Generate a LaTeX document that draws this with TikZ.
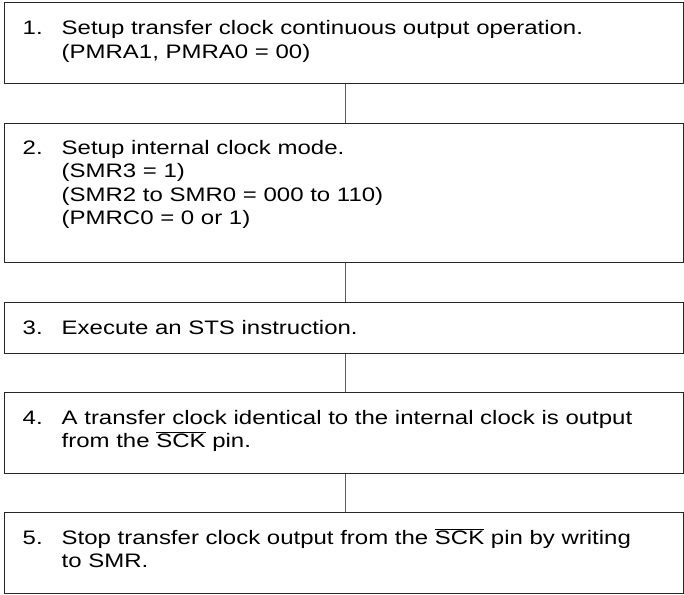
\documentclass[tikz,border=0pt]{standalone}
\usepackage{fontspec}
\setmainfont{Liberation Sans}[FakeStretch=1.23]
\usepackage{array}
\newcommand{\sck}{$\overline{\mbox{SCK}}$}
\newcommand{\stepitem}[2]{\begin{tabular}[t]{@{}p{39pt}@{}l@{}}#1 & #2\end{tabular}}
\begin{document}
\begin{tikzpicture}[x=1pt,y=-1pt,
  stepbox/.style={draw=black!85, line width=1pt, rectangle, minimum width=679pt, inner sep=0pt},
  steptext/.style={anchor=base west, inner sep=0pt, font=\fontsize{19.5}{23.5}\selectfont},
  link/.style={draw=black!65, line width=0.9pt}]
\useasboundingbox (0,0) rectangle (684,594);
\node[stepbox, minimum height=80pt] (b1) at (343.5,43) {};
\node[stepbox, minimum height=139pt] (b2) at (343.5,192.5) {};
\node[stepbox, minimum height=51pt] (b3) at (343.5,327.5) {};
\node[stepbox, minimum height=81pt] (b4) at (343.5,432.5) {};
\node[stepbox, minimum height=81pt] (b5) at (343.5,552.5) {};
\node[steptext] (t1) at ([shift={(19,32.5)}]b1.north west)
  {\stepitem{1.}{Setup transfer clock continuous output operation.\\ & (PMRA1, PMRA0 = 00)}};
\node[steptext] (t2) at ([shift={(19,31.5)}]b2.north west)
  {\stepitem{2.}{Setup internal clock mode.\\ & (SMR3 = 1)\\ & (SMR2 to SMR0 = 000 to 110)\\ & (PMRC0 = 0 or 1)}};
\node[steptext] (t3) at ([shift={(19,32.5)}]b3.north west)
  {\stepitem{3.}{Execute an STS instruction.}};
\node[steptext] (t4) at ([shift={(19,32.5)}]b4.north west)
  {\stepitem{4.}{A transfer clock identical to the internal clock is output\\ & from the \sck{} pin.}};
\node[steptext] (t5) at ([shift={(19,32.5)}]b5.north west)
  {\stepitem{5.}{Stop transfer clock output from the \sck{} pin by writing\\ & to SMR.}};
\draw[link] ([xshift=1.5pt]b1.south) -- ([xshift=1.5pt]b2.north);
\draw[link] ([xshift=1.5pt]b2.south) -- ([xshift=1.5pt]b3.north);
\draw[link] ([xshift=1.5pt]b3.south) -- ([xshift=1.5pt]b4.north);
\draw[link] ([xshift=1.5pt]b4.south) -- ([xshift=1.5pt]b5.north);
\end{tikzpicture}
\end{document}
